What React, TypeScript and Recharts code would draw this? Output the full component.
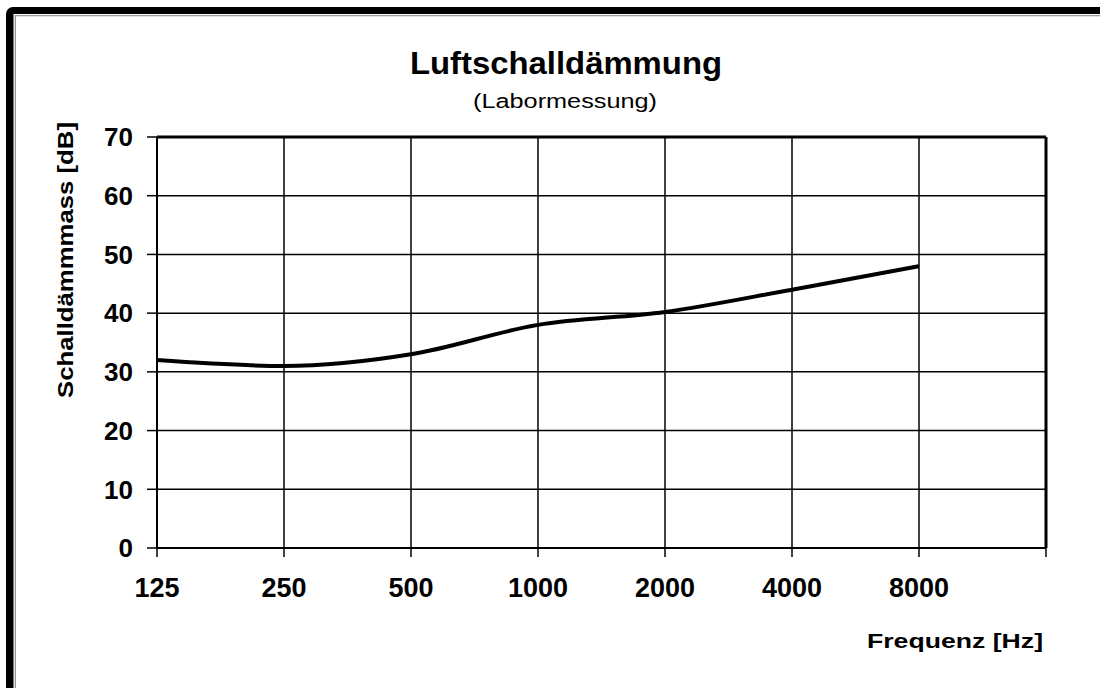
import { LineChart, Line, XAxis, YAxis, CartesianGrid, ReferenceLine } from 'recharts'

const freqLabels = ['125', '250', '500', '1000', '2000', '4000', '8000', '']
const soundReduction = [32, 31, 33, 38, 40.2, 44, 48]
const yTicks = [0, 10, 20, 30, 40, 50, 60, 70]

const data = soundReduction.map((v, i) => ({ i, r: v }))
const xTicks = freqLabels.map((_, i) => i)

const FONT = '"Liberation Sans", Arial, sans-serif'

export default function App() {
  return (
    <div style={{ position: 'absolute', left: 0, top: 0, width: 1100, height: 688, overflow: 'hidden', background: '#fff' }}>
      {/* frame */}
      <svg width={1100} height={688} style={{ position: 'absolute', left: 0, top: 0 }}>
        <rect x={6} y={7} width={1200} height={1000} rx={7} fill="#000" />
        <rect x={13.5} y={14} width={1200} height={1000} fill="#fff" />
        <rect x={14.7} y={15} width={1200} height={1000} fill="#9a9a9a" />
        <rect x={16} y={16.3} width={1200} height={1000} fill="#fff" />
      </svg>

      <div style={{ position: 'absolute', left: 0, top: 0 }}>
        <LineChart width={1100} height={688} data={data} margin={{ top: 137, right: 54, bottom: 90, left: 77 }}>
          <CartesianGrid stroke="#000" strokeWidth={1.5} />
          <XAxis
            dataKey="i"
            type="number"
            domain={[0, 7]}
            ticks={xTicks}
            tickFormatter={(v: number) => freqLabels[v]}
            height={50}
            tickSize={9}
            tickMargin={21}
            stroke="#000"
            strokeWidth={2}
            tick={{ fill: '#000', fontSize: 27, fontWeight: 700, fontFamily: FONT }}
            tickLine={{ stroke: '#000', strokeWidth: 1.5 }}
          />
          <YAxis
            type="number"
            domain={[0, 70]}
            ticks={yTicks}
            width={80}
            tickSize={10}
            tickMargin={14}
            stroke="#000"
            strokeWidth={2}
            tick={{ fill: '#000', fontSize: 26, fontWeight: 700, fontFamily: FONT }}
            tickLine={{ stroke: '#000', strokeWidth: 1.5 }}
          />
          <ReferenceLine y={70} stroke="#000" strokeWidth={3} />
          <ReferenceLine x={7} stroke="#000" strokeWidth={3} />
          <Line
            dataKey="r"
            type="monotone"
            stroke="#000"
            strokeWidth={4}
            dot={false}
            activeDot={false}
            isAnimationActive={false}
          />
        </LineChart>
      </div>

      {/* titles & axis labels */}
      <svg width={1100} height={688} style={{ position: 'absolute', left: 0, top: 0, pointerEvents: 'none' }}>
        <text x={410} y={74} fontFamily={FONT} fontWeight={700} fontSize={32} fill="#000" textLength={312} lengthAdjust="spacingAndGlyphs">
          Luftschalldämmung
        </text>
        <text x={473} y={108} fontFamily={FONT} fontSize={20} fill="#000" textLength={184} lengthAdjust="spacingAndGlyphs">
          (Labormessung)
        </text>
        <text transform="translate(73,398) rotate(-90)" fontFamily={FONT} fontWeight={700} fontSize={22} fill="#000" textLength={276} lengthAdjust="spacingAndGlyphs">
          Schalldämmmass [dB]
        </text>
        <text x={867} y={648} fontFamily={FONT} fontWeight={700} fontSize={21} fill="#000" textLength={176} lengthAdjust="spacingAndGlyphs">
          Frequenz [Hz]
        </text>
      </svg>
    </div>
  )
}
